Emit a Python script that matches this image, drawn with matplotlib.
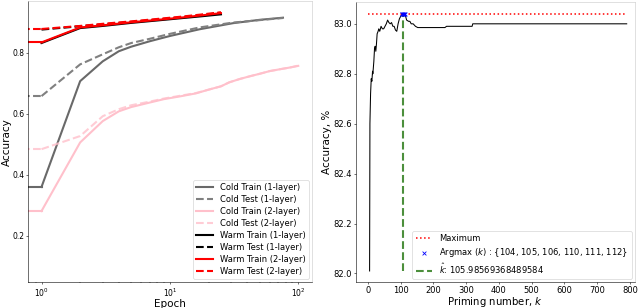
import numpy as np
import matplotlib
matplotlib.use('Agg')
import matplotlib.pyplot as plt

# ---- left panel: accuracy vs epoch (sparse readings)
ep_cold1 = [1, 2, 3, 4, 5, 7, 10, 17, 31, 50, 76]
cold_train_1 = [0.360, 0.707, 0.772, 0.805, 0.820, 0.838, 0.855, 0.877, 0.897, 0.908, 0.915]
cold_test_1 = [0.658, 0.762, 0.795, 0.818, 0.832, 0.846, 0.862, 0.883, 0.899, 0.907, 0.914]

ep_cold2 = [1, 2, 3, 4, 5, 7, 9, 12, 16, 20, 25, 29, 35, 42, 50, 60, 72, 87, 100]
cold_train_2 = [0.281, 0.506, 0.576, 0.608, 0.622, 0.637, 0.648, 0.657, 0.667, 0.679, 0.690,
                0.703, 0.714, 0.723, 0.731, 0.740, 0.746, 0.752, 0.757]
cold_test_2 = [0.484, 0.527, 0.592, 0.615, 0.628, 0.640, 0.650, 0.659, 0.668, 0.679, 0.690,
               0.703, 0.714, 0.723, 0.731, 0.740, 0.746, 0.752, 0.758]

ep_warm = [1, 2, 3, 5, 8, 12, 18, 25]
warm_train_1 = [0.832, 0.881, 0.888, 0.898, 0.906, 0.913, 0.920, 0.926]
warm_test_1 = [0.876, 0.887, 0.893, 0.901, 0.909, 0.916, 0.924, 0.931]
warm_train_2 = [0.834, 0.883, 0.890, 0.900, 0.908, 0.915, 0.923, 0.930]
warm_test_2 = [0.878, 0.888, 0.895, 0.903, 0.911, 0.918, 0.926, 0.933]

# ---- right panel: accuracy vs priming number k
k_vals = [5, 6, 8, 10, 12, 14, 15, 18, 20, 22, 24, 26, 28, 31, 33, 36, 40, 44, 48, 52, 56,
          60, 64, 68, 72, 76, 80, 84, 88, 92, 96, 100, 104, 106, 108, 110, 112, 115, 118,
          124, 128, 132, 138, 145, 152, 235, 240, 318, 320, 790]
acc_vals = [82.01, 82.60, 82.72, 82.78, 82.77, 82.81, 82.80, 82.85, 82.90, 82.91, 82.89,
            82.92, 82.96, 82.97, 82.98, 82.97, 82.99, 82.98, 82.98, 82.99, 83.00, 83.015,
            83.005, 83.00, 83.005, 82.99, 82.99, 82.975, 82.97, 83.00, 83.02, 83.03, 83.04,
            83.04, 83.035, 83.04, 83.04, 83.03, 83.015, 83.01, 83.01, 83.00, 83.00, 82.99,
            82.985, 82.985, 82.99, 82.99, 83.00, 83.00]
argmax_k = [104, 105, 106, 110, 111, 112]
acc_max = 83.04
k_hat = 105.98569368489584

fig = plt.figure(figsize=(12.8, 6.16), dpi=50)
ax1 = fig.add_axes([0.044, 0.083, 0.4435, 0.914])
ax2 = fig.add_axes([0.556, 0.083, 0.436, 0.911])

lw = 3.0
ax1.plot(ep_cold1, cold_train_1, color='dimgray', lw=lw, label='Cold Train (1-layer)')
ax1.plot(ep_cold1, cold_test_1, color='gray', lw=lw, ls='--', label='Cold Test (1-layer)')
ax1.plot(ep_cold2, cold_train_2, color='pink', lw=lw, label='Cold Train (2-layer)')
ax1.plot(ep_cold2, cold_test_2, color='pink', lw=lw, ls='--', alpha=0.8, label='Cold Test (2-layer)')
ax1.plot(ep_warm, warm_train_1, color='black', lw=lw, label='Warm Train (1-layer)')
ax1.plot(ep_warm, warm_test_1, color='black', lw=lw, ls='--', label='Warm Test (1-layer)')
ax1.plot(ep_warm, warm_train_2, color='red', lw=lw, label='Warm Train (2-layer)')
ax1.plot(ep_warm, warm_test_2, color='red', lw=lw, ls='--', label='Warm Test (2-layer)')

# the first epoch value is carried flat to the left edge
for ep, ys, c, ls, a in [(ep_cold1, cold_train_1, 'dimgray', '-', 1), (ep_cold1, cold_test_1, 'gray', '--', 1),
                         (ep_cold2, cold_train_2, 'pink', '-', 1), (ep_cold2, cold_test_2, 'pink', '--', 0.8),
                         (ep_warm, warm_train_2, 'red', '-', 1), (ep_warm, warm_test_2, 'red', '--', 1)]:
    ax1.plot([0.7, ep[0]], [ys[0], ys[0]], color=c, lw=lw, ls=ls, alpha=a)

ax1.set_xscale('log')
ax1.set_xlim(0.787, 128)
ax1.set_ylim(0.047, 0.97)
ax1.set_yticks([0.2, 0.4, 0.6, 0.8])
ax1.tick_params(labelsize=11, pad=2)
ax1.set_xlabel('Epoch', fontsize=15, labelpad=0)
ax1.set_ylabel('Accuracy', fontsize=15, labelpad=1)
ax1.legend(loc='lower right', fontsize=12, labelspacing=0.35, handlelength=2.0,
           borderaxespad=0.4)

ax2.plot(k_vals, acc_vals, color='black', lw=1.5)
ax2.hlines(acc_max, 0, 790, colors='red', linestyles=':', lw=2.2, label='Maximum')
ax2.scatter(argmax_k, [acc_max] * len(argmax_k), marker='x', color='blue', s=30, lw=1.2, zorder=3,
            label='Argmax ($k$) : {104, 105, 106, 110, 111, 112}')
ax2.vlines(k_hat, acc_vals[0], acc_max, colors='#4c8f3c', linestyles='--', lw=3,
           label=r'$\hat{k}$: 105.98569368489584')
ax2.set_xlim(-37, 815)
ax2.set_ylim(81.964, 83.088)
ax2.set_xticks(range(0, 801, 100))
ax2.set_yticks([82.0, 82.2, 82.4, 82.6, 82.8, 83.0])
ax2.tick_params(labelsize=12, pad=2)
ax2.set_xlabel('Priming number, $k$', fontsize=14.5, labelpad=0)
ax2.set_ylabel('Accuracy, %', fontsize=15, labelpad=2)
ax2.legend(loc='lower right', fontsize=12, labelspacing=0.3, borderaxespad=0.4)

for ax in (ax1, ax2):
    ax.spines['top'].set_color('#c8c8c8')
    ax.spines['right'].set_color('#c8c8c8')

fig.savefig('out.png', dpi=50)
